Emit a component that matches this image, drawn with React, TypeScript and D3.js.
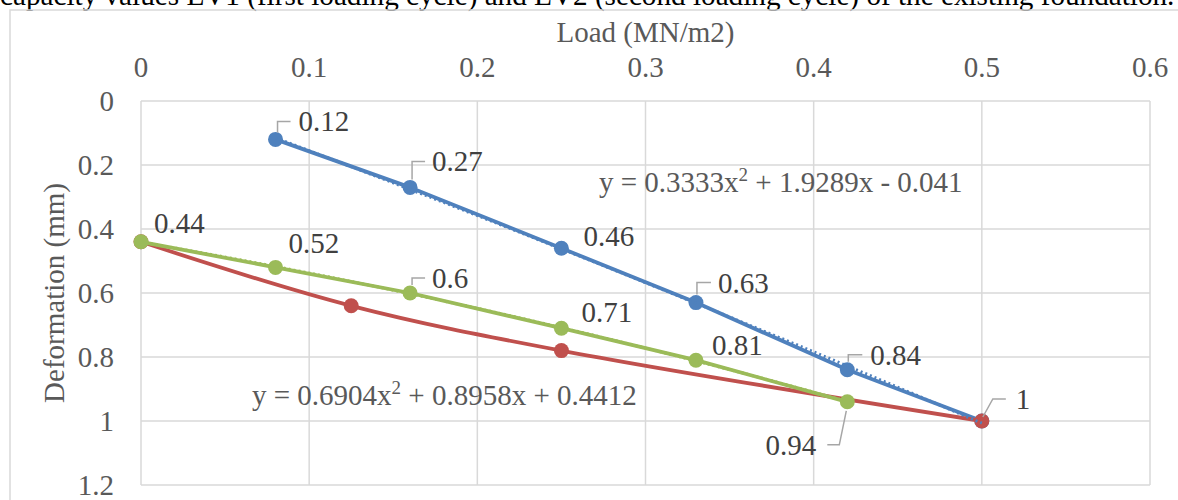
import React from "react";
import * as d3 from "d3";

// ---- data ----
const loadEV1 = [0.08, 0.16, 0.25, 0.33, 0.42, 0.5];
const defEV1 = [0.12, 0.27, 0.46, 0.63, 0.84, 1];
const loadUnload = [0, 0.08, 0.16, 0.25, 0.33, 0.42];
const defUnload = [0.44, 0.52, 0.6, 0.71, 0.81, 0.94];
const loadEV2 = [0, 0.125, 0.25, 0.5];
const defEV2 = [0.44, 0.64, 0.78, 1];
const trendEV1 = [0.3333, 1.9289, -0.041];
const trendUnload = [0.6904, 0.8958, 0.4412];
const xTicks = [0, 0.1, 0.2, 0.3, 0.4, 0.5, 0.6];
const yTicks = [0, 0.2, 0.4, 0.6, 0.8, 1, 1.2];
const titleText =
  "capacity values EV1 (first loading cycle) and EV2 (second loading cycle) of the existing foundation.";
const xTitle = "Load (MN/m2)";
const yTitle = "Deformation (mm)";

// ---- layout ----
const W = 1178;
const H = 500;
const plot = { left: 141, right: 1150, top: 101, bottom: 485 };
const BLUE = "#4F81BD";
const RED = "#C0504D";
const GREEN = "#9BBB59";
const GRID = "#d9d9d9";
const FONT = "'Liberation Serif', 'Times New Roman', serif";

type Lbl = {
  series: "ev1" | "un" | "ev2";
  idx: number;
  dx: number;
  dy: number;
  anchor?: "start" | "end";
  leader?: [number, number][];
};

// label placements (pixel offsets relative to the point)
const labels: Lbl[] = [
  { series: "ev1", idx: 0, dx: 23, dy: -8, leader: [[2, -7], [2, -18], [15, -18]] },
  { series: "ev1", idx: 1, dx: 22, dy: -16, leader: [[2, -8], [2, -26], [15, -26]] },
  { series: "ev1", idx: 2, dx: 22, dy: -2 },
  { series: "ev1", idx: 3, dx: 22, dy: -10, leader: [[1, -8], [1, -20], [15, -20]] },
  { series: "ev1", idx: 4, dx: 23, dy: -5, leader: [[1, -8], [1, -15], [15, -15]] },
  { series: "ev2", idx: 3, dx: 34, dy: -12, leader: [[1, -4], [11, -22], [24, -22]] },
  { series: "un", idx: 0, dx: 13, dy: -9 },
  { series: "un", idx: 1, dx: 13, dy: -14 },
  { series: "un", idx: 2, dx: 22, dy: -5, leader: [[2, -8], [2, -15], [15, -15]] },
  { series: "un", idx: 3, dx: 20, dy: -6 },
  { series: "un", idx: 4, dx: 16, dy: -5 },
  { series: "un", idx: 5, dx: -31, dy: 53, anchor: "end", leader: [[-1, 9], [-8, 43], [-20, 43]] },
];

function fmt(v: number) {
  return String(+v.toFixed(2));
}

export default function App() {
  const x = d3.scaleLinear().domain([0, 0.6]).range([plot.left, plot.right]);
  const y = d3.scaleLinear().domain([0, 1.2]).range([plot.top, plot.bottom]);

  const ev1 = loadEV1.map((l, i) => [l, defEV1[i]] as [number, number]);
  const un = loadUnload.map((l, i) => [l, defUnload[i]] as [number, number]);
  const ev2 = loadEV2.map((l, i) => [l, defEV2[i]] as [number, number]);
  const series: Record<string, [number, number][]> = { ev1, un, ev2 };

  const straight = d3
    .line<[number, number]>()
    .x((d) => x(d[0]))
    .y((d) => y(d[1]));
  const smooth = d3
    .line<[number, number]>()
    .x((d) => x(d[0]))
    .y((d) => y(d[1]))
    .curve(d3.curveCatmullRom.alpha(0.5));

  const poly = (c: number[], x0: number, x1: number) =>
    d3.range(0, 61).map((k) => {
      const t = x0 + ((x1 - x0) * k) / 60;
      return [t, c[0] * t * t + c[1] * t + c[2]] as [number, number];
    });
  const trend1 = poly(trendEV1, d3.min(loadEV1)!, d3.max(loadEV1)!);
  const trend2 = poly(trendUnload, d3.min(loadUnload)!, d3.max(loadUnload)!);

  const eq = (c: number[]) => {
    const s = (v: number) => (v < 0 ? " - " + Math.abs(v) : " + " + v);
    return { a: "y = " + c[0] + "x", b: s(c[1]) + "x" + s(c[2]) };
  };
  const eq1 = eq(trendEV1);
  const eq2 = eq(trendUnload);

  const R = 7.5;
  const LW = 3.8;

  return (
    <svg
      width={W}
      height={H}
      style={{ position: "absolute", left: 0, top: 0, display: "block", background: "#fff" }}
      fontFamily={FONT}
    >
      <rect x={0} y={0} width={W} height={H} fill="#fff" />
      <text x={0} y={5} fontSize={29.2} fill="#000">
        {titleText}
      </text>
      <rect x={10} y={10} width={W + 20} height={H + 20} fill="none" stroke={GRID} strokeWidth={1.5} />

      {/* grid */}
      {xTicks.map((t) => (
        <line key={"gx" + t} x1={x(t)} x2={x(t)} y1={plot.top} y2={plot.bottom} stroke={GRID} strokeWidth={1.5} />
      ))}
      {yTicks.map((t) => (
        <line key={"gy" + t} x1={plot.left} x2={plot.right} y1={y(t)} y2={y(t)} stroke={GRID} strokeWidth={1.5} />
      ))}

      {/* tick labels */}
      {xTicks.map((t) => (
        <text key={"tx" + t} x={x(t)} y={77} fontSize={29} fill="#595959" textAnchor="middle">
          {String(t)}
        </text>
      ))}
      {yTicks.map((t) => (
        <text key={"ty" + t} x={114} y={y(t) + 10} fontSize={29} fill="#595959" textAnchor="end">
          {String(t)}
        </text>
      ))}

      {/* axis titles */}
      <text x={(plot.left + plot.right) / 2} y={42} fontSize={29} fill="#595959" textAnchor="middle">
        {xTitle}
      </text>
      <text
        transform={`translate(64, ${(plot.top + plot.bottom) / 2}) rotate(-90)`}
        fontSize={29}
        fill="#595959"
        textAnchor="middle"
      >
        {yTitle}
      </text>

      {/* series lines */}
      <path d={straight(ev1)!} fill="none" stroke={BLUE} strokeWidth={LW} strokeLinejoin="round" />
      {ev1.map((d, i) => (
        <circle key={"m1" + i} cx={x(d[0])} cy={y(d[1])} r={R} fill={BLUE} />
      ))}
      <path d={smooth(ev2)!} fill="none" stroke={RED} strokeWidth={LW} strokeLinejoin="round" />
      {ev2.map((d, i) => (
        <circle key={"m2" + i} cx={x(d[0])} cy={y(d[1])} r={R} fill={RED} />
      ))}
      <path d={straight(un)!} fill="none" stroke={GREEN} strokeWidth={LW} strokeLinejoin="round" />
      {un.map((d, i) => (
        <circle key={"m3" + i} cx={x(d[0])} cy={y(d[1])} r={R} fill={GREEN} />
      ))}

      {/* trendlines */}
      <path d={straight(trend1)!} fill="none" stroke={BLUE} strokeWidth={3} strokeDasharray="2 3" />
      <path d={straight(trend2)!} fill="none" stroke={GREEN} strokeWidth={3} strokeDasharray="2 3" />

      {/* equations */}
      <text x={599} y={192} fontSize={29} fill="#595959">
        {eq1.a}
        <tspan fontSize={19} dy={-11}>2</tspan>
        <tspan dy={11}>{eq1.b}</tspan>
      </text>
      <text x={252} y={405} fontSize={29} fill="#595959">
        {eq2.a}
        <tspan fontSize={19} dy={-11}>2</tspan>
        <tspan dy={11}>{eq2.b}</tspan>
      </text>

      {/* data labels */}
      {labels.map((l, i) => {
        const d = series[l.series][l.idx];
        const px = x(d[0]);
        const py = y(d[1]);
        return (
          <g key={"l" + i}>
            {l.leader && (
              <polyline
                points={l.leader.map((p) => `${px + p[0]},${py + p[1]}`).join(" ")}
                fill="none"
                stroke="#a6a6a6"
                strokeWidth={1.5}
              />
            )}
            <text
              x={px + l.dx}
              y={py + l.dy}
              fontSize={29}
              fill="#404040"
              textAnchor={l.anchor || "start"}
            >
              {fmt(d[1])}
            </text>
          </g>
        );
      })}
    </svg>
  );
}
